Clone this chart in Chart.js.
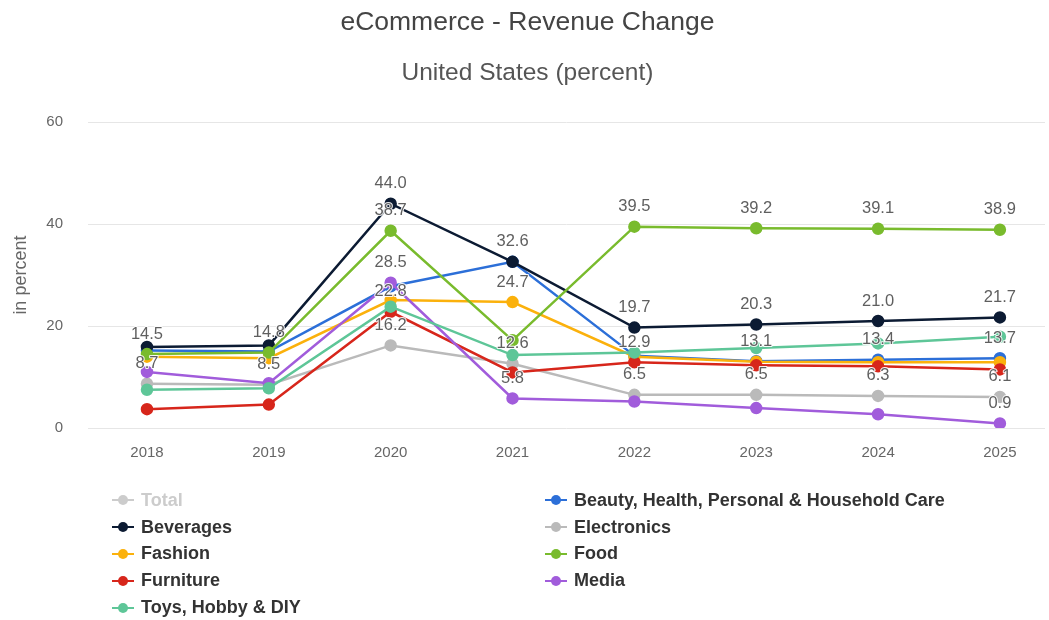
<!DOCTYPE html>
<html>
<head>
<meta charset="utf-8">
<title>eCommerce - Revenue Change</title>
<script src="https://cdn.jsdelivr.net/npm/chart.js@4.4.1/dist/chart.umd.min.js"></script>
<style>
  html, body { margin: 0; padding: 0; background: #fff; }
  #wrap { position: relative; width: 1049px; height: 620px; }
  #legend {
    position: absolute; left: 112px; top: 487px;
    display: grid; grid-template-columns: 433px 480px; grid-auto-rows: 26.8px;
    font: bold 18px "Liberation Sans", Arial, sans-serif; color: #333;
  }
  #legend .item { display: flex; align-items: center; cursor: pointer; white-space: nowrap; }
  #legend .item.off { color: #cccccc; }
  #legend .mk { position: relative; width: 22px; height: 2px; margin-right: 7px; }
  #legend .mk i { position: absolute; left: 6px; top: -4px; width: 10px; height: 10px; border-radius: 50%; }
</style>
</head>
<body>
<div id="wrap">
  <canvas id="revenueChart" width="1049" height="620"></canvas>
  <div id="legend"></div>
</div>
<script>
const years = ['2018', '2019', '2020', '2021', '2022', '2023', '2024', '2025'];

// revenue change in percent, one array per segment
const totalValues = [];
const beautyValues = [15.2, 15.0, 27.8, 32.6, 14.2, 13.1, 13.4, 13.7];
const beveragesValues = [15.9, 16.2, 44.0, 32.6, 19.7, 20.3, 21.0, 21.7];
const electronicsValues = [8.7, 8.5, 16.2, 12.6, 6.5, 6.5, 6.3, 6.1];
const fashionValues = [14.0, 13.7, 25.1, 24.7, 14.0, 13.0, 12.9, 12.9];
const foodValues = [14.5, 14.8, 38.7, 17.2, 39.5, 39.2, 39.1, 38.9];
const furnitureValues = [3.7, 4.6, 22.8, 10.9, 12.9, 12.3, 12.1, 11.5];
const mediaValues = [11.0, 8.8, 28.5, 5.8, 5.2, 3.9, 2.7, 0.9];
const toysValues = [7.5, 7.8, 23.8, 14.3, 14.8, 15.7, 16.6, 17.9];

// which points get a value label (year index)
const beautyLabelled = [5, 6, 7];
const beveragesLabelled = [2, 3, 4, 5, 6, 7];
const electronicsLabelled = [0, 1, 2, 3, 4, 5, 6, 7];
const fashionLabelled = [3];
const foodLabelled = [0, 1, 2, 4, 5, 6, 7];
const furnitureLabelled = [2, 4];
const mediaLabelled = [2, 3, 7];

const yTicks = [0, 20, 40, 60];

const series = [
    { name: 'Total', values: totalValues, color: '#c4c4c4', hidden: true },
    { name: 'Beauty, Health, Personal & Household Care', values: beautyValues, color: '#2c6fd8', labels: beautyLabelled },
    { name: 'Beverages', values: beveragesValues, color: '#0c1b33', labels: beveragesLabelled },
    { name: 'Electronics', values: electronicsValues, color: '#bababa', labels: electronicsLabelled },
    { name: 'Fashion', values: fashionValues, color: '#fbb10c', labels: fashionLabelled },
    { name: 'Food', values: foodValues, color: '#79bb2d', labels: foodLabelled },
    { name: 'Furniture', values: furnitureValues, color: '#d7261b', labels: furnitureLabelled },
    { name: 'Media', values: mediaValues, color: '#a15cdb', labels: mediaLabelled },
    { name: 'Toys, Hobby & DIY', values: toysValues, color: '#5ec698' }
];

const FONT = '"Liberation Sans", Arial, sans-serif';

// value labels drawn above the chosen points
const pointLabels = {
    id: 'pointLabels',
    afterDatasetsDraw(chart) {
        const ctx = chart.ctx;
        ctx.save();
        ctx.font = '16.5px ' + FONT;
        ctx.textAlign = 'center';
        ctx.textBaseline = 'middle';
        ctx.lineJoin = 'round';
        chart.data.datasets.forEach((ds, i) => {
            const meta = chart.getDatasetMeta(i);
            if (!chart.isDatasetVisible(i) || !ds.labelIdx) return;
            ds.labelIdx.forEach(j => {
                const pt = meta.data[j];
                if (!pt) return;
                const txt = ds.data[j].y.toFixed(1);
                ctx.lineWidth = 2;
                ctx.strokeStyle = 'rgba(255,255,255,0.9)';
                ctx.strokeText(txt, pt.x, pt.y - 20);
                ctx.fillStyle = '#5f5f5f';
                ctx.fillText(txt, pt.x, pt.y - 20);
            });
        });
        ctx.restore();
    }
};

const datasets = series.map((s, i) => ({
    label: s.name,
    data: s.values.map((v, k) => ({ x: k, y: v })),
    borderColor: s.color,
    backgroundColor: s.color,
    pointBackgroundColor: s.color,
    pointBorderColor: s.color,
    borderWidth: 2.5,
    pointRadius: 5,
    pointHoverRadius: 6,
    tension: 0,
    hidden: !!s.hidden,
    labelIdx: s.labels,
    order: series.length - i
}));

const revenueChart = new Chart(document.getElementById('revenueChart'), {
    type: 'line',
    data: { datasets: datasets },
    plugins: [pointLabels],
    options: {
        responsive: false,
        animation: false,
        layout: { autoPadding: false, padding: { left: 10, right: 4, top: 0, bottom: 150 } },
        plugins: {
            legend: { display: false },
            tooltip: { enabled: true },
            title: {
                display: true,
                text: 'eCommerce - Revenue Change',
                color: '#444',
                font: { family: FONT, size: 26.5, weight: 'normal' },
                padding: { top: 7, bottom: 20 }
            },
            subtitle: {
                display: true,
                text: 'United States (percent)',
                color: '#555',
                font: { family: FONT, size: 24.5, weight: 'normal' },
                padding: { top: 0, bottom: 34 }
            }
        },
        scales: {
            x: {
                type: 'linear',
                min: -0.484,
                max: 7.37,
                grid: { display: false },
                border: { display: false },
                afterBuildTicks: axis => { axis.ticks = years.map((y, k) => ({ value: k })); },
                ticks: {
                    color: '#666',
                    font: { family: FONT, size: 15 },
                    padding: 8,
                    autoSkip: false,
                    maxRotation: 0,
                    callback: v => years[v]
                }
            },
            y: {
                min: yTicks[0],
                max: yTicks[yTicks.length - 1],
                afterBuildTicks: axis => { axis.ticks = yTicks.map(v => ({ value: v })); },
                afterFit: axis => { axis.width = 78; },
                grid: { color: '#e6e6e6', lineWidth: 1, drawTicks: false },
                border: { display: false },
                ticks: {
                    color: '#666',
                    font: { family: FONT, size: 15 },
                    padding: 25
                },
                title: {
                    display: true,
                    text: 'in percent',
                    color: '#666',
                    font: { family: FONT, size: 18 },
                    padding: { top: 0, bottom: 15 }
                }
            }
        }
    }
});

// two-column legend under the plot
const buildLegend = function () {
    const box = document.getElementById('legend');
    box.innerHTML = '';
    revenueChart.data.datasets.forEach((ds, i) => {
        const visible = revenueChart.isDatasetVisible(i);
        const col = visible ? ds.borderColor : '#cccccc';
        const item = document.createElement('div');
        item.className = 'item' + (visible ? '' : ' off');
        item.innerHTML = `<span class="mk" style="background:${col}"><i style="background:${col}"></i></span>${ds.label}`;
        item.onclick = () => {
            revenueChart.setDatasetVisibility(i, !visible);
            revenueChart.update();
            buildLegend();
        };
        box.appendChild(item);
    });
};
buildLegend();
</script>
</body>
</html>
